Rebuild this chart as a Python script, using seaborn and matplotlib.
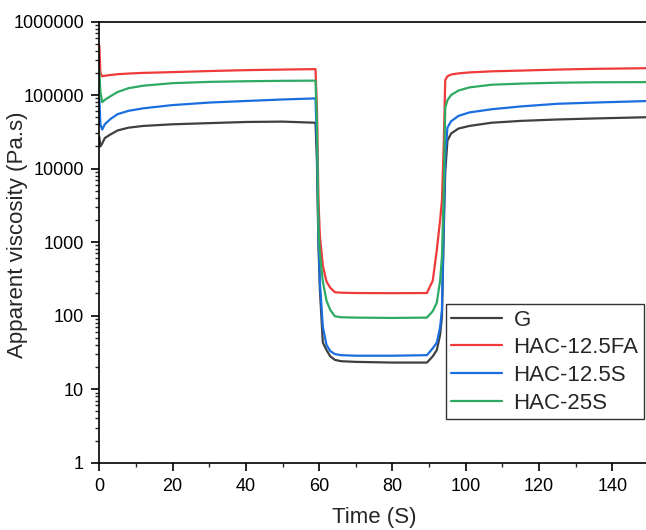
import numpy as np
import pandas as pd
import matplotlib
matplotlib.use("Agg")
import matplotlib.pyplot as plt
import matplotlib.ticker as mticker
import seaborn as sns

# time points (s) shared by all series
time_s = [0, 0.3, 0.8, 1.5, 3, 5, 8, 12, 20, 30, 40, 50, 59, 59.4, 59.8, 60.2, 61, 62, 63, 64.3,
          66, 70, 80, 89.4, 91, 92.1, 93, 93.5, 94, 94.4, 95, 96, 98, 101, 107, 115, 125, 135, 150]

# apparent viscosity (Pa.s)
g_vals = [27000, 20000, 22000, 26000, 29000, 33000, 36000, 38000, 40000, 41500, 43000, 43500, 42000,
          12000, 900, 220, 43, 34, 28, 25, 24, 23.5, 23, 23, 28, 34, 55, 96, 1500, 9000,
          24000, 30000, 35000, 38000, 42000, 44500, 46500, 48000, 50000]
fa_vals = [470000, 200000, 180000, 183000, 187000, 192000, 196000, 200000, 205000, 212000, 218000,
           222000, 225000, 60000, 3700, 1200, 480, 290, 240, 208, 205, 203, 202, 203, 300, 780, 2000,
           3700, 22000, 160000, 180000, 190000, 197000, 203000, 210000, 215000, 222000, 227000, 232000]
s125_vals = [90000, 40000, 34000, 40000, 47000, 55000, 61000, 66000, 73000, 79000, 83000, 87000, 90000,
             20000, 1200, 280, 70, 40, 33, 30, 29, 28.5, 28.5, 29, 36, 43, 70, 120, 2000, 15000,
             36000, 44000, 52000, 58000, 64000, 70000, 76000, 79000, 83000]
s25_vals = [220000, 110000, 80000, 86000, 96000, 110000, 124000, 134000, 145000, 151000, 154000,
            156000, 157000, 40000, 1500, 700, 290, 160, 120, 98, 95, 94, 93, 94, 115, 150, 300, 630,
            5000, 67000, 85000, 100000, 115000, 127000, 138000, 143000, 147000, 149000, 150000]

labels = ["G", "HAC-12.5FA", "HAC-12.5S", "HAC-25S"]
colors = ["#404040", "#ee3a3a", "#1a6fe0", "#2eaa62"]

df = pd.concat([
    pd.DataFrame({"t": time_s, "v": vals, "sample": name})
    for name, vals in zip(labels, [g_vals, fa_vals, s125_vals, s25_vals])
])

sns.set_style("ticks")
plt.rcParams["font.family"] = ["Liberation Sans", "DejaVu Sans"]

fig = plt.figure(figsize=(6.46, 5.30), dpi=100)
ax = fig.add_axes([99.3 / 646, (530 - 462.7) / 530, (649 - 99.3) / 646, (462.7 - 21.5) / 530])

sns.lineplot(data=df, x="t", y="v", hue="sample", palette=dict(zip(labels, colors)),
             hue_order=labels, linewidth=1.6, ax=ax, legend=False)

ax.set_yscale("log")
ax.set_ylim(1, 1e6)
ax.set_xlim(0, 150)
ax.yaxis.set_major_locator(mticker.LogLocator(base=10, numticks=10))
ax.yaxis.set_minor_locator(mticker.LogLocator(base=10, subs=np.arange(2, 10), numticks=20))
ax.yaxis.set_major_formatter(mticker.FuncFormatter(lambda v, p: f"{int(round(v))}"))
ax.yaxis.set_minor_formatter(mticker.NullFormatter())
ax.set_xticks([0, 20, 40, 60, 80, 100, 120, 140])
ax.xaxis.set_minor_locator(mticker.MultipleLocator(10))

for s in ax.spines.values():
    s.set_linewidth(1.2)
    s.set_color("black")
ax.tick_params(which="major", direction="out", length=6, width=1.2, labelsize=13, pad=5, colors="black")
ax.tick_params(which="minor", direction="out", length=3, width=1.0)
ax.tick_params(axis="y", which="both", right=False)
ax.tick_params(axis="x", which="both", top=False)

ax.set_xlabel("Time (S)", fontsize=16, labelpad=9)
ax.set_ylabel("Apparent viscosity (Pa.s)", fontsize=16)
ax.yaxis.set_label_coords(-0.13, 0.516)

handles = [plt.Line2D([], [], color=c, linewidth=1.6) for c in colors]
leg = ax.legend(handles, labels, loc="upper right", bbox_to_anchor=(644 / 646, 1 - 304 / 530),
                bbox_transform=fig.transFigure, fontsize=16, frameon=True, fancybox=False,
                handlelength=2.3, handletextpad=0.5, labelspacing=0.3, borderpad=0.25,
                borderaxespad=0)
leg.get_frame().set_edgecolor("black")
leg.get_frame().set_linewidth(1.0)

fig.savefig("out.png", dpi=100)
